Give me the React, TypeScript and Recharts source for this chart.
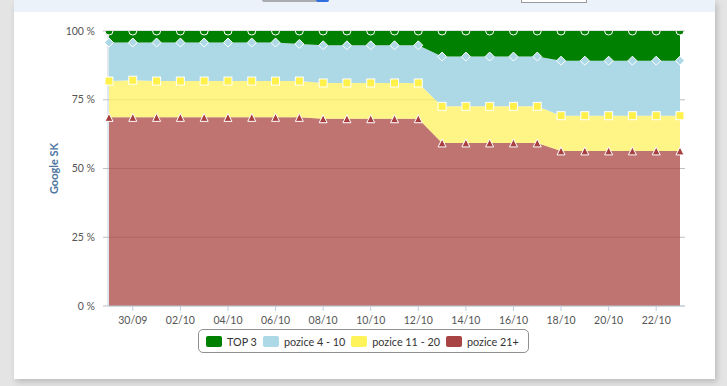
import React from 'react';
import { AreaChart, Area, XAxis, YAxis, CartesianGrid } from 'recharts';

// dny (29/09 – 23/10)
const DATES = [
  '29/09', '30/09', '01/10', '02/10', '03/10', '04/10', '05/10', '06/10', '07/10',
  '08/10', '09/10', '10/10', '11/10', '12/10', '13/10', '14/10', '15/10', '16/10',
  '17/10', '18/10', '19/10', '20/10', '21/10', '22/10', '23/10',
];
const X_TICKS = ['30/09', '02/10', '04/10', '06/10', '08/10', '10/10', '12/10', '14/10', '16/10', '18/10', '20/10', '22/10'];
const Y_TICKS = [0, 25, 50, 75, 100];

// podíl klíčových slov v %
const TOP3 = [4.2, 4.2, 4.2, 4.2, 4.2, 4.2, 4.2, 4.2, 4.7, 5.2, 5.2, 5.2, 5.2, 5.2, 9.3, 9.3, 9.3, 9.3, 9.3, 10.8, 10.8, 10.8, 10.8, 10.8, 10.8];
const POZICE_4_10 = [14.0, 13.7, 14.0, 14.0, 14.0, 14.0, 14.0, 14.0, 13.5, 13.7, 13.7, 13.7, 13.7, 13.7, 18.1, 18.1, 18.1, 18.1, 18.1, 20.0, 20.0, 20.0, 20.0, 20.0, 20.0];
const POZICE_11_20 = [13.2, 13.5, 13.2, 13.2, 13.2, 13.2, 13.2, 13.2, 13.2, 13.0, 13.0, 13.0, 13.0, 13.0, 13.3, 13.3, 13.3, 13.3, 13.3, 12.8, 12.8, 12.8, 12.8, 12.8, 12.8];
const POZICE_21 = [68.6, 68.6, 68.6, 68.6, 68.6, 68.6, 68.6, 68.6, 68.6, 68.1, 68.1, 68.1, 68.1, 68.1, 59.3, 59.3, 59.3, 59.3, 59.3, 56.4, 56.4, 56.4, 56.4, 56.4, 56.4];

const LEGEND = [
  { name: 'TOP 3', color: '#008000' },
  { name: 'pozice 4 - 10', color: '#ADD8E6' },
  { name: 'pozice 11 - 20', color: '#FFF35A' },
  { name: 'pozice 21+', color: '#A84444' },
];

const data = DATES.map((date, i) => ({
  date,
  top3: TOP3[i],
  p4: POZICE_4_10[i],
  p11: POZICE_11_20[i],
  p21: POZICE_21[i],
}));

const R = 4;

const circleDot = (p: any) => {
  const { cx, cy, index } = p;
  if (cx == null || cy == null) return <g key={index} />;
  // horni okraj grafu orizne kolecko na pulku
  return (
    <g key={index}>
      <path d={`M${cx - R},${cy} A${R},${R} 0 0 0 ${cx + R},${cy} Z`} fill="#008000" />
      <path d={`M${cx - R},${cy} A${R},${R} 0 0 0 ${cx + R},${cy}`} fill="none" stroke="#fff" strokeWidth={1} />
    </g>
  );
};

const diamondDot = (p: any) => {
  const { cx, cy, index } = p;
  if (cx == null || cy == null) return <g key={index} />;
  return (
    <path
      key={index}
      d={`M${cx},${cy - R - 0.5} L${cx + R + 0.5},${cy} L${cx},${cy + R + 0.5} L${cx - R - 0.5},${cy} Z`}
      fill="#ADD8E6"
      stroke="#fff"
      strokeWidth={1}
    />
  );
};

const squareDot = (p: any) => {
  const { cx, cy, index } = p;
  if (cx == null || cy == null) return <g key={index} />;
  return <rect key={index} x={cx - R} y={cy - R} width={R * 2} height={R * 2} fill="#FFF04A" stroke="#fff" strokeWidth={1} />;
};

const triangleDot = (p: any) => {
  const { cx, cy, index } = p;
  if (cx == null || cy == null) return <g key={index} />;
  return (
    <path
      key={index}
      d={`M${cx},${cy - R} L${cx + R},${cy + R} L${cx - R},${cy + R} Z`}
      fill="#A84040"
      stroke="#fff"
      strokeWidth={1}
    />
  );
};

const tickStyle = { fontSize: 10.5, fill: '#555', fontFamily: 'Lato' };

export default function App() {
  return (
    <div style={{ position: 'absolute', left: 0, top: 0, width: 727, height: 386, background: '#E4E4E4', overflow: 'hidden', fontFamily: 'Lato' }}>
      <div
        style={{
          position: 'absolute',
          left: 14,
          top: 0,
          width: 701,
          height: 379,
          background: '#fff',
          boxShadow: '2px 3px 6px rgba(0,0,0,0.18)',
        }}
      />
      <div style={{ position: 'absolute', left: 14, top: 0, width: 701, height: 12, background: '#EBF2FA' }} />
      <div style={{ position: 'absolute', left: 262, top: 0, width: 56, height: 2, background: '#A9ACB0', borderRadius: '0 0 2px 2px' }} />
      <div style={{ position: 'absolute', left: 316, top: 0, width: 13, height: 2, background: '#2F6FE0', borderRadius: '0 0 2px 2px' }} />
      <div style={{ position: 'absolute', left: 521, top: 0, width: 64, height: 2, background: '#fff', border: '1px solid #9A9A9A', borderTop: 'none' }} />

      <div style={{ position: 'absolute', left: 0, top: 0 }}>
        <AreaChart width={727} height={386} data={data} margin={{ top: 31, right: 42, bottom: 50, left: 0 }}>
          <CartesianGrid vertical={false} stroke="#C0C0C0" />
          <XAxis
            dataKey="date"
            ticks={X_TICKS}
            interval={0}
            padding={{ left: 1, right: 5 }}
            height={30}
            tick={tickStyle}
            tickSize={5}
            tickMargin={6}
            tickLine={{ stroke: '#C0D0E0' }}
            axisLine={{ stroke: '#C0D0E0' }}
          />
          <YAxis
            width={108}
            domain={[0, 100]}
            ticks={Y_TICKS}
            tickFormatter={(v: number) => `${v} %`}
            tick={tickStyle}
            tickSize={5}
            tickMargin={8}
            tickLine={{ stroke: '#C0C0C0' }}
            axisLine={{ stroke: '#C0D0E0' }}
            label={{
              value: 'Google SK',
              angle: -90,
              position: 'insideLeft',
              offset: 54,
              style: { textAnchor: 'middle', fill: '#4D759E', fontWeight: 'bold', fontSize: 11, fontFamily: 'Lato' },
            }}
          />
          <Area type="linear" dataKey="p21" name="pozice 21+" stackId="a" fill="#AA4643" fillOpacity={0.75} stroke="none" dot={triangleDot} activeDot={false} isAnimationActive={false} />
          <Area type="linear" dataKey="p11" name="pozice 11 - 20" stackId="a" fill="#FFF25F" fillOpacity={0.75} stroke="none" dot={squareDot} activeDot={false} isAnimationActive={false} />
          <Area type="linear" dataKey="p4" name="pozice 4 - 10" stackId="a" fill="#ADD8E6" fillOpacity={1} stroke="none" dot={diamondDot} activeDot={false} isAnimationActive={false} />
          <Area type="linear" dataKey="top3" name="TOP 3" stackId="a" fill="#008000" fillOpacity={1} stroke="none" dot={circleDot} activeDot={false} isAnimationActive={false} />
        </AreaChart>
      </div>

      <div
        style={{
          position: 'absolute',
          left: 198,
          top: 329,
          width: 331,
          height: 24,
          boxSizing: 'border-box',
          border: '1px solid #909090',
          borderRadius: 5,
          display: 'flex',
          alignItems: 'center',
          paddingLeft: 7,
          fontSize: 10.8,
          color: '#333',
          whiteSpace: 'nowrap',
        }}
      >
        {LEGEND.map((l) => (
          <div key={l.name} style={{ display: 'flex', alignItems: 'center', marginRight: 6, flexShrink: 0 }}>
            <span style={{ width: 16, height: 11, background: l.color, borderRadius: 2, marginRight: 5, flexShrink: 0 }} />
            <span>{l.name}</span>
          </div>
        ))}
      </div>
    </div>
  );
}
